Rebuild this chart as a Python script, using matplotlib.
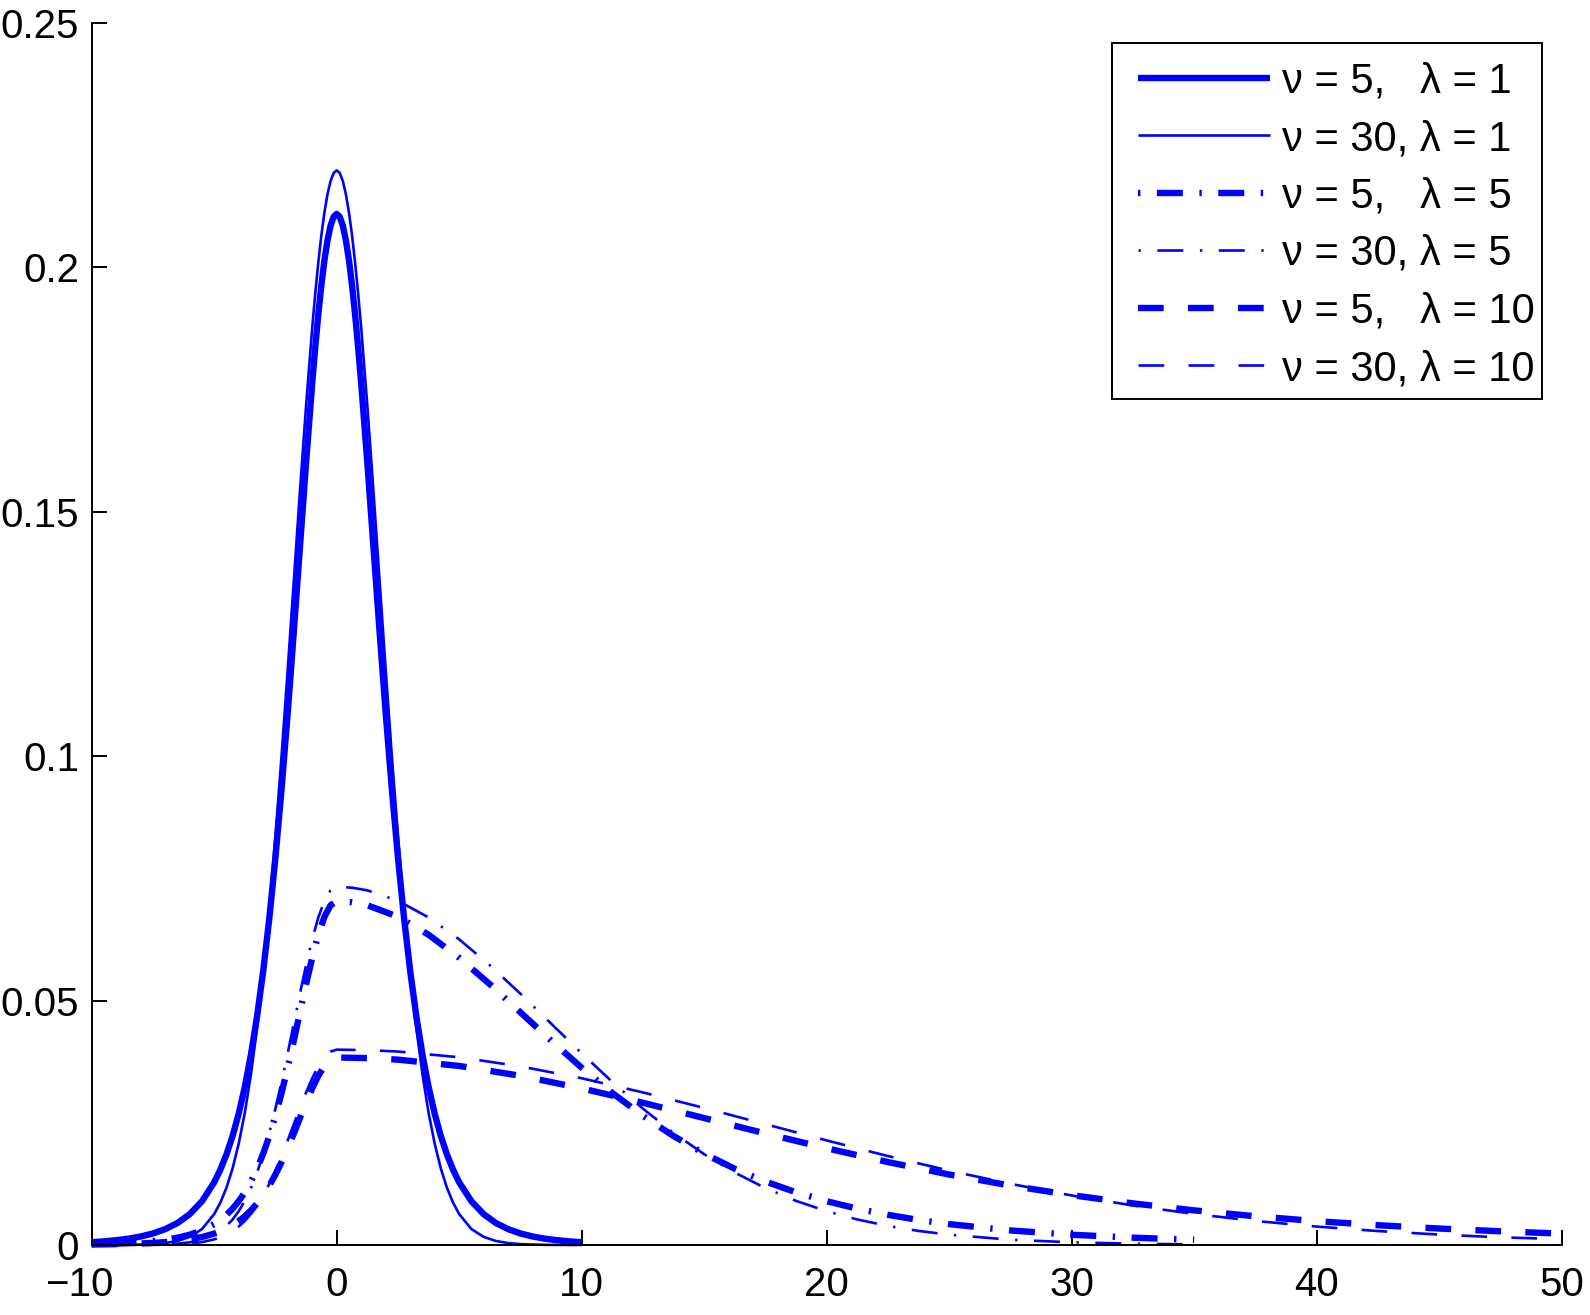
import matplotlib
matplotlib.use('Agg')
import matplotlib.pyplot as plt
from matplotlib.patches import Rectangle
import matplotlib.transforms as mtransforms

plt.rcParams['font.family'] = ['Liberation Sans', 'DejaVu Sans']
plt.rcParams['lines.scale_dashes'] = False

# ---------------- data ----------------
x_lam1 = [-10, -9.5, -9, -8.5, -8, -7.5, -7, -6.5, -6, -5.5, -5, -4.75, -4.5, -4.25, -4,
          -3.75, -3.5, -3.25, -3, -2.75, -2.5, -2.25, -2, -1.75, -1.5, -1.25, -1, -0.875,
          -0.75, -0.625, -0.5, -0.375, -0.25, -0.125, 0, 0.125, 0.25, 0.375, 0.5, 0.625,
          0.75, 0.875, 1, 1.25, 1.5, 1.75, 2, 2.25, 2.5, 2.75, 3, 3.25, 3.5, 3.75, 4, 4.25,
          4.5, 4.75, 5, 5.5, 6, 6.5, 7, 7.5, 8, 8.5, 9, 9.5, 10]

y_nu5_lam1 = [0.00057, 0.00074, 0.00098, 0.00129, 0.00174, 0.00236, 0.00324, 0.00449, 0.00630,
              0.00894, 0.01282, 0.01540, 0.01851, 0.02229, 0.02685, 0.03235, 0.03894, 0.04678,
              0.05603, 0.06683, 0.07925, 0.09327, 0.10879, 0.12546, 0.14276, 0.16001, 0.17621,
              0.18362, 0.19037, 0.19635, 0.20143, 0.20550, 0.20848, 0.21029, 0.21090, 0.21029,
              0.20848, 0.20550, 0.20143, 0.19635, 0.19037, 0.18362, 0.17621, 0.16001, 0.14276,
              0.12546, 0.10879, 0.09327, 0.07925, 0.06683, 0.05603, 0.04678, 0.03894, 0.03235,
              0.02685, 0.02229, 0.01851, 0.01540, 0.01282, 0.00894, 0.00630, 0.00449, 0.00324,
              0.00236, 0.00174, 0.00129, 0.00098, 0.00074, 0.00057]

y_nu30_lam1 = [0.00000, 0.00001, 0.00002, 0.00004, 0.00009, 0.00019, 0.00039, 0.00082, 0.00166,
               0.00325, 0.00633, 0.00865, 0.01170, 0.01566, 0.02072, 0.02707, 0.03492, 0.04444,
               0.05571, 0.06880, 0.08367, 0.10006, 0.11764, 0.13590, 0.15416, 0.17166, 0.18755,
               0.19463, 0.20099, 0.20655, 0.21122, 0.21493, 0.21762, 0.21925, 0.21980, 0.21925,
               0.21762, 0.21493, 0.21122, 0.20655, 0.20099, 0.19463, 0.18755, 0.17166, 0.15416,
               0.13590, 0.11764, 0.10006, 0.08367, 0.06880, 0.05571, 0.04444, 0.03492, 0.02707,
               0.02072, 0.01566, 0.01170, 0.00865, 0.00633, 0.00325, 0.00166, 0.00082, 0.00039,
               0.00019, 0.00009, 0.00004, 0.00002, 0.00001, 0.00000]

x_lam5 = [-10, -9.5, -9, -8.5, -8, -7.5, -7, -6.5, -6, -5.5, -5, -4.75, -4.5, -4.25, -4,
          -3.75, -3.5, -3.25, -3, -2.75, -2.5, -2.25, -2, -1.75, -1.5, -1.25, -1, -0.75,
          -0.5, -0.25, 0, 0.625, 1.25, 2.5, 3.75, 5, 6.25, 7.5, 8.75, 10, 11.25, 12.5, 13.75,
          15, 16.25, 17.5, 18.75, 20, 21.25, 22.5, 23.75, 25, 27.5, 30, 32.5, 35]

y_nu5_lam5 = [0.00019, 0.00025, 0.00033, 0.00043, 0.00058, 0.00079, 0.00108, 0.00150, 0.00210,
              0.00298, 0.00427, 0.00513, 0.00617, 0.00743, 0.00895, 0.01078, 0.01298, 0.01559,
              0.01868, 0.02228, 0.02642, 0.03109, 0.03626, 0.04182, 0.04759, 0.05334, 0.05874,
              0.06346, 0.06714, 0.06949, 0.07030, 0.07010, 0.06949, 0.06714, 0.06346, 0.05874,
              0.05334, 0.04759, 0.04182, 0.03626, 0.03109, 0.02642, 0.02228, 0.01868, 0.01559,
              0.01298, 0.01078, 0.00895, 0.00743, 0.00617, 0.00513, 0.00427, 0.00298, 0.00210,
              0.00150, 0.00108]

y_nu30_lam5 = [0.00000, 0.00000, 0.00001, 0.00001, 0.00003, 0.00006, 0.00013, 0.00027, 0.00055,
               0.00108, 0.00211, 0.00288, 0.00390, 0.00522, 0.00691, 0.00902, 0.01164, 0.01481,
               0.01857, 0.02293, 0.02789, 0.03335, 0.03921, 0.04530, 0.05139, 0.05722, 0.06252,
               0.06700, 0.07041, 0.07254, 0.07327, 0.07308, 0.07254, 0.07041, 0.06700, 0.06252,
               0.05722, 0.05139, 0.04530, 0.03921, 0.03335, 0.02789, 0.02293, 0.01857, 0.01481,
               0.01164, 0.00902, 0.00691, 0.00522, 0.00390, 0.00288, 0.00211, 0.00108, 0.00055,
               0.00027, 0.00013]

x_lam10 = [-10, -9.5, -9, -8.5, -8, -7.5, -7, -6.5, -6, -5.5, -5, -4.75, -4.5, -4.25, -4,
           -3.75, -3.5, -3.25, -3, -2.75, -2.5, -2.25, -2, -1.75, -1.5, -1.25, -1, -0.75,
           -0.5, -0.25, 0, 1.25, 2.5, 5, 7.5, 10, 12.5, 15, 17.5, 20, 22.5, 25, 27.5, 30, 32.5,
           35, 37.5, 40, 42.5, 45, 47.5, 50]

y_nu5_lam10 = [0.00010, 0.00013, 0.00018, 0.00023, 0.00032, 0.00043, 0.00059, 0.00082, 0.00115,
               0.00163, 0.00233, 0.00280, 0.00337, 0.00405, 0.00488, 0.00588, 0.00708, 0.00851,
               0.01019, 0.01215, 0.01441, 0.01696, 0.01978, 0.02281, 0.02596, 0.02909, 0.03204,
               0.03461, 0.03662, 0.03791, 0.03835, 0.03823, 0.03791, 0.03662, 0.03461, 0.03204,
               0.02909, 0.02596, 0.02281, 0.01978, 0.01696, 0.01441, 0.01215, 0.01019, 0.00851,
               0.00708, 0.00588, 0.00488, 0.00405, 0.00337, 0.00280, 0.00233]

y_nu30_lam10 = [0.00000, 0.00000, 0.00000, 0.00001, 0.00002, 0.00003, 0.00007, 0.00015, 0.00030,
                0.00059, 0.00115, 0.00157, 0.00213, 0.00285, 0.00377, 0.00492, 0.00635, 0.00808,
                0.01013, 0.01251, 0.01521, 0.01819, 0.02139, 0.02471, 0.02803, 0.03121, 0.03410,
                0.03654, 0.03840, 0.03957, 0.03996, 0.03986, 0.03957, 0.03840, 0.03654, 0.03410,
                0.03121, 0.02803, 0.02471, 0.02139, 0.01819, 0.01521, 0.01251, 0.01013, 0.00808,
                0.00635, 0.00492, 0.00377, 0.00285, 0.00213, 0.00157, 0.00120]

legend_labels = ['\u03bd = 5,   \u03bb = 1', '\u03bd = 30, \u03bb = 1',
                 '\u03bd = 5,   \u03bb = 5', '\u03bd = 30, \u03bb = 5',
                 '\u03bd = 5,   \u03bb = 10', '\u03bd = 30, \u03bb = 10']

x_ticks = [-10, 0, 10, 20, 30, 40, 50]
x_tick_labels = ['\u221210', '0', '10', '20', '30', '40', '50']
y_ticks = [0, 0.05, 0.1, 0.15, 0.2, 0.25]
y_tick_labels = ['0', '0.05', '0.1', '0.15', '0.2', '0.25']

# ---------------- styling ----------------
W, H = 1590, 1315
BLUE = (0, 0, 1)
THICK = 4.6
THIN = 1.9
SOLID = '-'
DASHDOT = (0, (1.7, 11.9, 18.7, 11.9))
DASHED = (0, (18.5, 17.5))

fig = plt.figure(figsize=(W / 100, H / 100), dpi=100)
ax = fig.add_axes([0.05767, 0.05323, 0.92453, 0.92951])

series = [
    (x_lam1, y_nu5_lam1, THICK, SOLID),
    (x_lam1, y_nu30_lam1, THIN, SOLID),
    (x_lam5, y_nu5_lam5, THICK, DASHDOT),
    (x_lam5, y_nu30_lam5, THIN, DASHDOT),
    (x_lam10, y_nu5_lam10, THICK, DASHED),
    (x_lam10, y_nu30_lam10, THIN, DASHED),
]
for (xs, ys, lw, ls), lab in zip(series, legend_labels):
    ax.plot(xs, ys, color=BLUE, linewidth=lw, linestyle=ls, label=lab,
            clip_on=False, solid_capstyle='butt', dash_capstyle='butt',
            solid_joinstyle='round', dash_joinstyle='round')

ax.set_xlim(-10, 50)
ax.set_ylim(0, 0.25)
ax.spines['top'].set_visible(False)
ax.spines['right'].set_visible(False)
for s in ('left', 'bottom'):
    ax.spines[s].set_linewidth(1.4)
ax.set_xticks(x_ticks)
ax.set_xticklabels(x_tick_labels)
ax.set_yticks(y_ticks)
ax.set_yticklabels(y_tick_labels)
ax.tick_params(axis='both', direction='in', length=10.6, width=1.4, labelsize=29,
               top=False, right=False)
ax.tick_params(axis='x', pad=15)
ax.tick_params(axis='y', pad=9)

lab0 = ax.get_xticklabels()[0]
lab0.set_transform(lab0.get_transform() +
                   mtransforms.ScaledTranslation(-0.12, 0, fig.dpi_scale_trans))

# legend content (no automatic frame) + a drawn frame matching the reference box
FS = 30
leg = ax.legend(loc='upper left', bbox_to_anchor=(1138 / W, 1 - 61.5 / H),
                bbox_transform=fig.transFigure, borderaxespad=0, borderpad=0,
                fontsize=FS, frameon=False, handlelength=95 / FS, handletextpad=0.3,
                labelspacing=0.42)
box_l, box_r, box_t, box_b = 1112, 1541.7, 42.7, 399.3
fig.add_artist(Rectangle((box_l / W, 1 - box_b / H), (box_r - box_l) / W,
                         (box_b - box_t) / H, transform=fig.transFigure,
                         fill=False, edgecolor='black', linewidth=1.4))

fig.savefig('out.png', dpi=100)
